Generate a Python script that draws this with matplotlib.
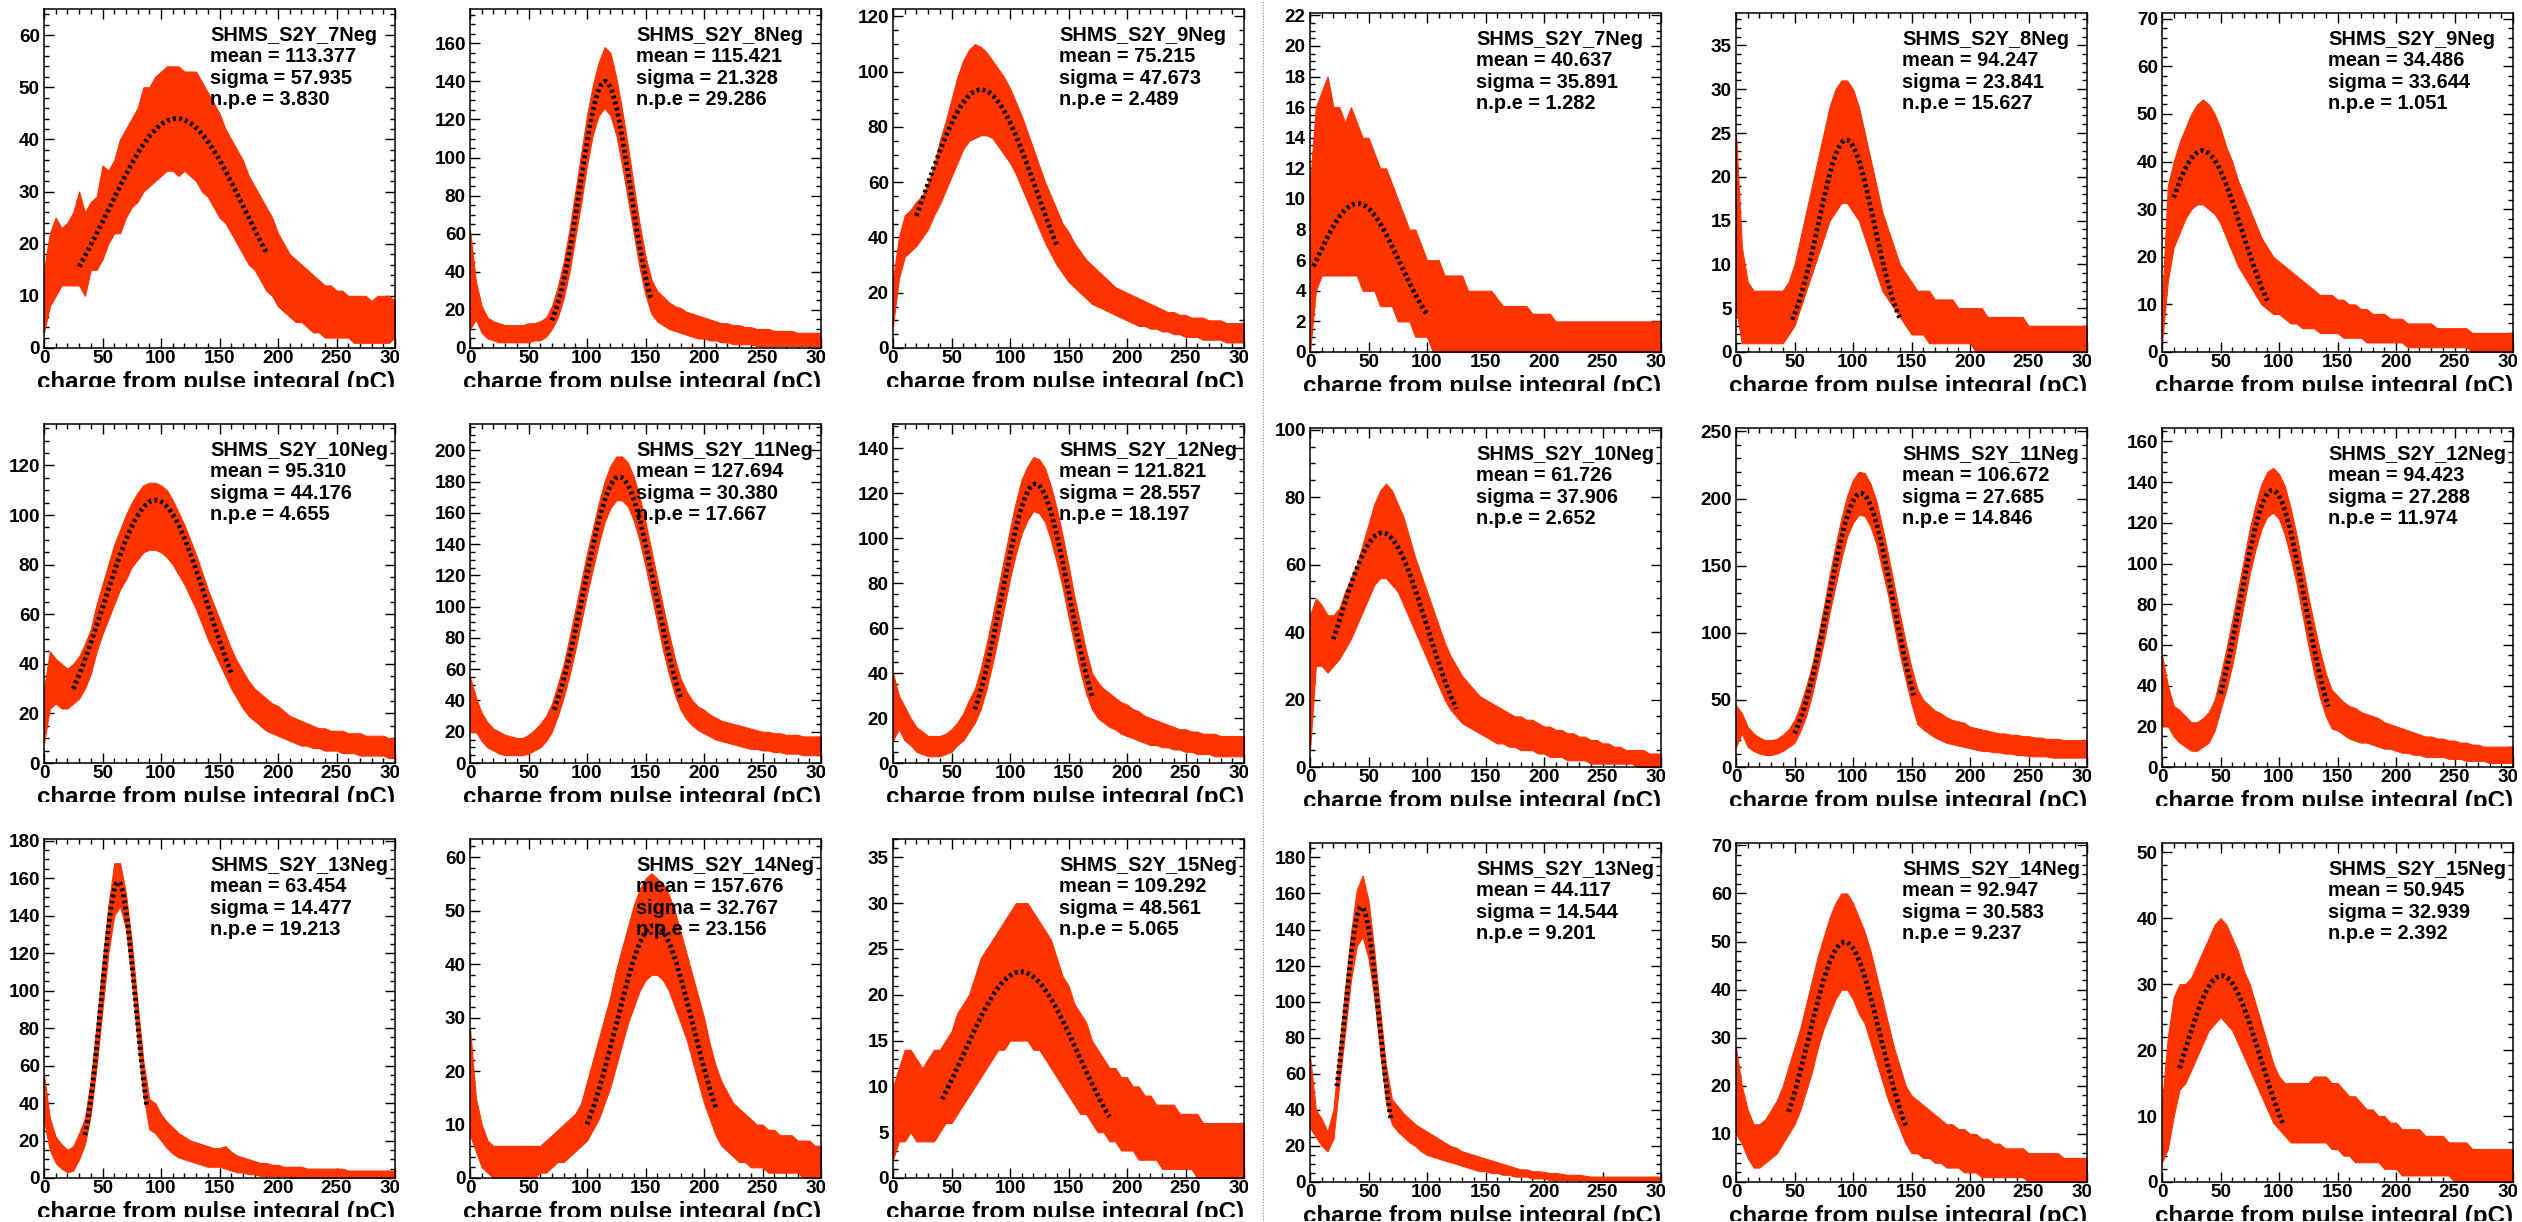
import numpy as np
import matplotlib
matplotlib.use("Agg")
import matplotlib.pyplot as plt
from matplotlib.ticker import MultipleLocator
from matplotlib.transforms import Bbox
from matplotlib.lines import Line2D

plt.rcParams['font.family'] = ['Liberation Sans', 'DejaVu Sans']
plt.rcParams['font.weight'] = 'bold'

W, H = 2522, 1222
RED = '#ff3300'

CHARGE = list(range(0, 301, 5))
CHANNELS = ['7Neg', '8Neg', '9Neg', '10Neg', '11Neg', '12Neg', '13Neg', '14Neg', '15Neg']

# left run
MEAN_A = [113.377, 115.421, 75.215, 95.310, 127.694, 121.821, 63.454, 157.676, 109.292]
SIGMA_A = [57.935, 21.328, 47.673, 44.176, 30.380, 28.557, 14.477, 32.767, 48.561]
NPE_A = [3.830, 29.286, 2.489, 4.655, 17.667, 18.197, 19.213, 23.156, 5.065]
FIT_AMP_A = [44, 140, 93.5, 106, 183, 124, 158, 47.3, 22.5]
FIT_FROM_A = [30, 70, 20, 25, 72, 70, 35, 100, 42]
FIT_TO_A = [190, 155, 140, 160, 180, 170, 88, 210, 185]
YMAX_A = [65, 178, 122.7, 136.7, 216.8, 150.7, 180.9, 63.4, 37]
YSTEP_A = [10, 20, 20, 20, 20, 20, 20, 10, 5]

# right run
MEAN_B = [40.637, 94.247, 34.486, 61.726, 106.672, 94.423, 44.117, 92.947, 50.945]
SIGMA_B = [35.891, 23.841, 33.644, 37.906, 27.685, 27.288, 14.544, 30.583, 32.939]
NPE_B = [1.282, 15.627, 1.051, 2.652, 14.846, 11.974, 9.201, 9.237, 2.392]
FIT_AMP_B = [9.7, 24.2, 42.3, 69.4, 204, 136, 152.5, 49.9, 31.3]
FIT_FROM_B = [3, 48, 10, 20, 50, 50, 23, 45, 15]
FIT_TO_B = [100, 140, 90, 125, 152, 142, 69, 145, 103]
YMAX_B = [22.15, 38.7, 71.2, 100.5, 252.6, 166.6, 188, 70.5, 51.4]
YSTEP_B = [2, 5, 10, 20, 50, 20, 20, 10, 10]

# histogram band (upper / lower edge of the noisy red trace)
A7_HI = [15, 22, 25, 23, 24, 26, 30, 26, 28, 29,
         35, 34, 36, 40, 42, 44, 46, 50, 50, 52,
         53, 54, 54, 54, 53, 53, 53, 51, 49, 47,
         45, 42, 40, 38, 36, 33, 31, 29, 27, 25,
         22, 20, 18, 17, 16, 15, 14, 13, 12, 12,
         11, 11, 10, 10, 10, 10, 9, 10, 10, 10, 9]
A7_LO = [3, 8, 10, 12, 12, 12, 12, 10, 15, 15,
         17, 20, 22, 22, 25, 27, 28, 30, 31, 32,
         33, 34, 34, 33, 34, 33, 32, 30, 29, 27,
         25, 24, 22, 20, 18, 16, 15, 13, 11, 10,
         8, 7, 6, 5, 5, 4, 3, 3, 2, 2,
         2, 2, 2, 1, 1, 1, 1, 1, 1, 1, 2]
A8_HI = [62, 35, 22, 16, 14, 13, 12, 12, 12, 12,
         13, 13, 14, 16, 22, 32, 45, 62, 82, 102,
         122, 138, 150, 158, 155, 142, 125, 106, 85, 65,
         48, 36, 30, 27, 24, 22, 21, 19, 18, 17,
         16, 15, 14, 13, 13, 12, 12, 11, 11, 10,
         10, 10, 9, 9, 9, 9, 8, 8, 8, 8, 8]
A8_LO = [10, 15, 8, 5, 4, 3, 3, 3, 3, 3,
         3, 4, 4, 6, 10, 16, 26, 40, 58, 76,
         96, 112, 122, 126, 122, 112, 96, 78, 60, 42,
         28, 18, 14, 12, 10, 9, 8, 7, 6, 5,
         5, 4, 4, 3, 3, 2, 2, 2, 2, 1,
         1, 1, 1, 1, 1, 1, 1, 1, 1, 1, 1]
A9_HI = [25, 40, 48, 50, 53, 55, 60, 66, 75, 82,
         90, 98, 104, 108, 110, 109, 107, 104, 101, 98,
         94, 89, 84, 78, 72, 66, 60, 55, 50, 45,
         42, 38, 35, 32, 30, 28, 26, 24, 22, 21,
         20, 19, 18, 17, 16, 15, 14, 13, 13, 12,
         12, 11, 11, 11, 10, 10, 10, 9, 9, 9, 9]
A9_LO = [8, 25, 33, 35, 37, 40, 43, 48, 52, 57,
         62, 67, 72, 75, 76, 77, 77, 76, 73, 70,
         67, 63, 58, 53, 48, 43, 38, 34, 30, 27,
         24, 22, 20, 18, 16, 15, 14, 13, 12, 11,
         10, 9, 8, 8, 7, 7, 6, 6, 5, 5,
         4, 4, 4, 3, 3, 3, 3, 2, 2, 2, 2]
A10_HI = [30, 45, 42, 40, 38, 40, 43, 48, 54, 64,
          72, 80, 88, 94, 100, 105, 109, 112, 113, 113,
          112, 110, 106, 101, 96, 90, 84, 77, 70, 64,
          58, 52, 46, 41, 37, 33, 30, 28, 26, 24,
          23, 21, 19, 18, 17, 16, 15, 14, 14, 13,
          13, 13, 12, 12, 12, 11, 11, 11, 11, 10, 10]
A10_LO = [8, 22, 24, 22, 22, 24, 26, 30, 36, 45,
          52, 58, 64, 70, 74, 79, 82, 85, 86, 86,
          85, 83, 80, 76, 72, 67, 62, 56, 50, 45,
          40, 35, 30, 26, 22, 19, 17, 15, 13, 12,
          11, 10, 9, 8, 7, 7, 6, 6, 5, 5,
          5, 4, 4, 4, 3, 3, 3, 3, 3, 2, 2]
A11_HI = [55, 42, 32, 26, 22, 20, 18, 17, 16, 16,
          18, 21, 25, 30, 38, 50, 63, 80, 98, 116,
          134, 150, 166, 180, 190, 196, 196, 192, 183, 170,
          154, 136, 118, 100, 83, 67, 54, 46, 40, 36,
          34, 31, 29, 27, 26, 25, 24, 23, 22, 21,
          20, 20, 19, 19, 18, 18, 18, 17, 17, 17, 17]
A11_LO = [20, 20, 14, 10, 8, 6, 5, 5, 5, 5,
          6, 8, 10, 14, 20, 30, 42, 56, 72, 90,
          108, 124, 140, 154, 163, 168, 168, 164, 155, 142,
          126, 108, 90, 72, 57, 44, 34, 28, 24, 21,
          19, 17, 15, 14, 13, 12, 11, 10, 9, 9,
          8, 8, 7, 7, 6, 6, 6, 5, 5, 5, 5]
A12_HI = [40, 30, 25, 20, 16, 14, 12, 12, 12, 13,
          15, 18, 22, 28, 33, 42, 53, 65, 78, 91,
          104, 116, 126, 132, 136, 135, 131, 123, 113, 101,
          88, 74, 62, 50, 40, 36, 33, 31, 29, 27,
          26, 24, 23, 21, 20, 19, 18, 17, 16, 15,
          15, 14, 14, 13, 13, 13, 12, 12, 12, 12, 12]
A12_LO = [10, 15, 10, 8, 5, 4, 3, 3, 3, 4,
          5, 8, 10, 14, 18, 24, 33, 44, 56, 69,
          82, 93, 102, 108, 112, 111, 107, 99, 89, 78,
          65, 53, 41, 31, 24, 20, 18, 16, 15, 13,
          12, 11, 10, 9, 8, 8, 7, 7, 6, 6,
          5, 5, 4, 4, 4, 3, 3, 3, 3, 3, 3]
A13_HI = [55, 32, 22, 18, 15, 17, 24, 32, 52, 82,
          115, 145, 168, 168, 152, 126, 93, 62, 42, 40,
          34, 30, 27, 24, 22, 20, 19, 18, 17, 16,
          16, 17, 14, 12, 11, 10, 9, 8, 8, 7,
          7, 6, 6, 6, 6, 5, 5, 5, 5, 5,
          5, 5, 4, 4, 4, 4, 4, 4, 4, 4, 4]
A13_LO = [30, 15, 8, 5, 3, 4, 10, 18, 34, 60,
          90, 120, 140, 145, 133, 106, 73, 44, 26, 24,
          20, 16, 13, 11, 10, 9, 8, 7, 6, 6,
          6, 5, 4, 3, 3, 2, 2, 1, 1, 1,
          1, 1, 0, 0, 0, 0, 0, 0, 0, 0,
          0, 0, 0, 0, 0, 0, 0, 0, 0, 0, 0]
A14_HI = [28, 15, 10, 7, 6, 6, 6, 6, 6, 6,
          6, 6, 6, 7, 8, 9, 10, 11, 12, 14,
          18, 22, 26, 30, 34, 39, 43, 47, 51, 54,
          56, 57, 56, 55, 53, 50, 46, 42, 38, 34,
          30, 25, 21, 18, 16, 14, 13, 12, 11, 10,
          10, 9, 9, 8, 8, 8, 7, 7, 7, 6, 6]
A14_LO = [8, 5, 2, 1, 0, 0, 0, 0, 0, 0,
          0, 0, 1, 1, 2, 3, 3, 4, 5, 6,
          7, 9, 11, 14, 17, 21, 25, 29, 32, 35,
          37, 38, 38, 37, 35, 32, 29, 26, 22, 18,
          14, 11, 8, 6, 5, 4, 3, 3, 2, 2,
          2, 1, 1, 1, 1, 1, 1, 0, 0, 0, 0]
A15_HI = [10, 12, 14, 14, 13, 12, 13, 14, 14, 15,
          16, 18, 19, 20, 22, 24, 25, 26, 27, 28,
          29, 30, 30, 30, 29, 28, 27, 26, 24, 22,
          21, 19, 18, 17, 15, 14, 13, 12, 12, 11,
          11, 10, 10, 9, 9, 8, 8, 8, 8, 7,
          7, 7, 7, 6, 6, 6, 6, 6, 6, 6, 6]
A15_LO = [2, 4, 4, 5, 4, 4, 4, 4, 5, 6,
          6, 7, 8, 9, 10, 11, 12, 13, 14, 14,
          15, 15, 15, 15, 14, 14, 13, 12, 11, 10,
          9, 8, 7, 7, 6, 5, 5, 4, 4, 3,
          3, 3, 2, 2, 2, 2, 1, 1, 1, 1,
          1, 1, 0, 0, 0, 0, 0, 0, 0, 0, 0]

B7_HI = [11, 16, 17, 18, 16, 16, 15, 16, 15, 14,
         14, 13, 12, 12, 11, 10, 9, 8, 8, 7,
         6, 6, 6, 5, 5, 5, 5, 4, 4, 4,
         4, 4, 3.5, 3, 3, 3, 3, 3, 2.5, 2.5,
         2.5, 2.5, 2, 2, 2, 2, 2, 2, 2, 2,
         2, 2, 2, 2, 2, 2, 2, 2, 2, 2, 2]
B7_LO = [0, 4, 5, 5, 5, 5, 5, 5, 5, 4,
         4, 4, 3, 3, 3, 2, 2, 2, 1, 1,
         1, 0, 0, 0, 0, 0, 0, 0, 0, 0,
         0, 0, 0, 0, 0, 0, 0, 0, 0, 0,
         0, 0, 0, 0, 0, 0, 0, 0, 0, 0,
         0, 0, 0, 0, 0, 0, 0, 0, 0, 0, 0]
B8_HI = [25, 12, 8, 7, 7, 7, 7, 7, 7, 8,
         10, 13, 16, 19, 22, 25, 28, 30, 31, 31,
         30, 28, 25, 22, 19, 16, 14, 12, 10, 9,
         8, 7, 7, 7, 6, 6, 6, 6, 5, 5,
         5, 5, 5, 4, 4, 4, 4, 4, 4, 4,
         3, 3, 3, 3, 3, 3, 3, 3, 3, 3, 3]
B8_LO = [5, 1, 1, 1, 1, 1, 1, 1, 1, 2,
         3, 5, 7, 9, 11, 13, 15, 16, 17, 17,
         16, 15, 13, 11, 9, 7, 6, 5, 4, 3,
         2, 2, 2, 1, 1, 1, 1, 1, 1, 1,
         1, 0, 0, 0, 0, 0, 0, 0, 0, 0,
         0, 0, 0, 0, 0, 0, 0, 0, 0, 0, 0]
B9_HI = [10, 35, 40, 44, 47, 50, 52, 53, 52, 50,
         47, 43, 40, 36, 33, 30, 27, 24, 22, 20,
         19, 18, 17, 16, 15, 14, 13, 12, 12, 12,
         11, 11, 10, 10, 9, 9, 8, 8, 8, 7,
         7, 7, 6, 6, 6, 6, 6, 5, 5, 5,
         5, 5, 5, 4, 4, 4, 4, 4, 4, 4, 4]
B9_LO = [2, 15, 22, 25, 28, 30, 31, 31, 30, 29,
         27, 24, 21, 18, 16, 14, 12, 10, 9, 8,
         8, 7, 6, 6, 5, 5, 5, 4, 4, 4,
         4, 3, 3, 3, 3, 2, 2, 2, 2, 2,
         2, 2, 1, 1, 1, 1, 1, 1, 1, 1,
         1, 1, 1, 0, 0, 0, 0, 0, 0, 0, 0]
B10_HI = [45, 50, 48, 45, 45, 47, 52, 56, 60, 66,
          72, 78, 82, 84, 82, 78, 74, 68, 62, 57,
          52, 47, 42, 37, 33, 30, 27, 25, 23, 21,
          20, 19, 18, 17, 16, 15, 15, 14, 14, 13,
          12, 12, 11, 11, 10, 10, 9, 9, 8, 8,
          7, 7, 6, 6, 5, 5, 5, 5, 4, 4, 4]
B10_LO = [5, 30, 30, 28, 30, 32, 35, 38, 42, 46,
          50, 54, 56, 56, 54, 52, 48, 44, 40, 36,
          32, 28, 24, 20, 17, 15, 13, 12, 11, 10,
          9, 8, 7, 7, 6, 6, 5, 5, 5, 4,
          4, 3, 3, 3, 2, 2, 2, 2, 1, 1,
          1, 1, 1, 1, 1, 1, 0, 0, 0, 0, 0]
B11_HI = [46, 40, 30, 25, 22, 20, 20, 21, 24, 28,
          35, 46, 60, 76, 97, 119, 143, 165, 185, 202,
          214, 220, 219, 211, 198, 179, 158, 136, 114, 93,
          74, 58, 50, 46, 42, 40, 37, 35, 34, 33,
          30, 29, 28, 27, 26, 25, 25, 24, 24, 23,
          23, 22, 22, 21, 21, 21, 20, 20, 20, 20, 20]
B11_LO = [15, 25, 15, 12, 10, 9, 9, 10, 12, 15,
          18, 27, 38, 54, 73, 93, 115, 135, 155, 172,
          182, 188, 187, 179, 166, 147, 128, 106, 84, 65,
          47, 32, 28, 25, 22, 20, 18, 17, 16, 15,
          14, 13, 12, 12, 11, 11, 10, 10, 9, 9,
          8, 8, 8, 8, 7, 7, 7, 7, 7, 7, 7]
B12_HI = [55, 40, 30, 28, 25, 22, 22, 24, 27, 33,
          45, 58, 72, 87, 102, 117, 129, 139, 145, 147,
          144, 138, 127, 114, 99, 84, 70, 57, 46, 38,
          35, 32, 30, 29, 27, 26, 25, 24, 22, 21,
          20, 19, 18, 17, 16, 15, 15, 14, 14, 13,
          13, 12, 12, 11, 11, 10, 10, 10, 10, 10, 10]
B12_LO = [20, 20, 15, 12, 10, 8, 8, 10, 12, 18,
          28, 38, 50, 65, 80, 95, 107, 117, 123, 125,
          122, 114, 103, 90, 75, 60, 46, 34, 25, 19,
          18, 16, 14, 13, 12, 12, 11, 10, 9, 9,
          8, 7, 7, 6, 6, 5, 5, 5, 5, 4,
          4, 4, 3, 3, 3, 3, 2, 2, 2, 2, 2]
B13_HI = [70, 40, 35, 28, 40, 74, 107, 138, 162, 170,
          156, 128, 95, 64, 46, 42, 38, 35, 32, 30,
          28, 26, 24, 22, 20, 19, 17, 16, 15, 14,
          13, 12, 11, 10, 9, 8, 7, 7, 6, 6,
          5.5, 5, 5, 4.5, 4, 4, 4, 3.5, 3, 3,
          3, 3, 3, 3, 3, 3, 3, 3, 3, 3, 3]
B13_LO = [30, 25, 20, 17, 24, 54, 83, 112, 131, 136,
          124, 102, 72, 44, 32, 28, 25, 22, 20, 17,
          15, 14, 13, 12, 11, 10, 9, 8, 7, 6,
          6, 5, 5, 4, 4, 3, 3, 3, 2, 2,
          2, 1, 1, 1, 1, 1, 1, 1, 0, 0,
          0, 0, 0, 0, 0, 0, 0, 0, 0, 0, 0]
B14_HI = [28, 20, 15, 12, 12, 13, 15, 17, 20, 24,
          28, 32, 37, 42, 47, 51, 55, 58, 60, 60,
          58, 55, 52, 48, 43, 38, 33, 28, 24, 20,
          18, 17, 16, 15, 14, 13, 12, 12, 11, 11,
          10, 10, 9, 9, 8, 8, 7, 7, 7, 7,
          6, 6, 6, 6, 6, 6, 5, 5, 5, 5, 5]
B14_LO = [10, 8, 5, 3, 3, 4, 5, 6, 8, 10,
          12, 15, 19, 23, 28, 32, 35, 38, 40, 40,
          38, 35, 33, 29, 25, 21, 17, 14, 11, 8,
          6, 6, 5, 5, 4, 4, 3, 3, 3, 2,
          2, 2, 1, 1, 1, 1, 1, 1, 1, 1,
          0, 0, 0, 0, 0, 0, 0, 0, 0, 0, 0]
B15_HI = [12, 22, 28, 30, 30, 31, 33, 35, 37, 39,
          40, 39, 37, 35, 32, 30, 27, 24, 21, 18,
          16, 15, 15, 15, 15, 15, 16, 16, 16, 15,
          15, 14, 13, 13, 12, 11, 11, 10, 10, 9,
          9, 8, 8, 8, 8, 7, 7, 7, 7, 6,
          6, 6, 6, 5, 5, 5, 5, 5, 5, 5, 5]
B15_LO = [3, 5, 10, 14, 15, 17, 19, 21, 23, 24,
          25, 24, 23, 21, 19, 17, 15, 13, 11, 9,
          8, 7, 6, 6, 6, 6, 6, 6, 6, 5,
          5, 4, 4, 3, 3, 3, 3, 3, 2, 2,
          2, 1, 1, 1, 1, 1, 1, 1, 1, 1,
          0, 0, 0, 0, 0, 0, 0, 0, 0, 0, 0]

HI_A = [A7_HI, A8_HI, A9_HI, A10_HI, A11_HI, A12_HI, A13_HI, A14_HI, A15_HI]
LO_A = [A7_LO, A8_LO, A9_LO, A10_LO, A11_LO, A12_LO, A13_LO, A14_LO, A15_LO]
HI_B = [B7_HI, B8_HI, B9_HI, B10_HI, B11_HI, B12_HI, B13_HI, B14_HI, B15_HI]
LO_B = [B7_LO, B8_LO, B9_LO, B10_LO, B11_LO, B12_LO, B13_LO, B14_LO, B15_LO]

# frame layout in pixels (left edge / top edge of every plot frame)
FRAME_W, FRAME_H = 351, 339
COLS_A, ROWS_A = [44, 470, 893], [9, 424, 839]
COLS_B, ROWS_B = [1310, 1736, 2162], [13, 428, 843]
MINOR_OF = {2: 0.5, 5: 1, 10: 2, 20: 5, 50: 10}

fig = plt.figure(figsize=(W / 100, H / 100), dpi=100)


def draw_panel(fx, fy, k, hi, lo, mean, sigma, npe, amp, f0, f1, ymax, ystep):
    ax = fig.add_axes([fx / W, 1 - (fy + FRAME_H) / H, FRAME_W / W, FRAME_H / H])
    ax.fill_between(CHARGE, lo, hi, color=RED, edgecolor=RED, lw=0.8, zorder=2)

    xs = np.linspace(f0, f1, 300)
    ax.plot(xs, amp * np.exp(-0.5 * ((xs - mean) / sigma) ** 2), color='black',
            lw=3.4, ls=(0, (0.6, 0.7)), dash_capstyle='butt', zorder=3)

    ax.set_xlim(0, 300)
    ax.set_ylim(0, ymax)
    ax.xaxis.set_major_locator(MultipleLocator(50))
    ax.xaxis.set_minor_locator(MultipleLocator(10))
    ax.yaxis.set_major_locator(MultipleLocator(ystep))
    ax.yaxis.set_minor_locator(MultipleLocator(MINOR_OF[ystep]))
    ax.tick_params(which='both', direction='in', top=True, right=True, width=1.0,
                   labelsize=13.6)
    ax.tick_params(which='major', length=7)
    ax.tick_params(which='minor', length=3.5)
    ax.tick_params(axis='x', pad=1.5)
    ax.tick_params(axis='y', pad=3)
    for sp in ax.spines.values():
        sp.set_linewidth(1.1)

    # the ROOT pad cuts off the last x label and the x title
    pad = Bbox.from_extents(fx - 80, H - (fy + FRAME_H + 39), fx + FRAME_W + 4, H - fy + 30)
    for t in ax.xaxis.get_major_ticks():
        t.label1.set_clip_box(pad)
        t.label1.set_clip_on(True)
    fig.text((fx + FRAME_W) / W, (H - (fy + FRAME_H + 41)) / H,
             'charge from pulse integral (pC)', ha='right', va='baseline',
             fontsize=17.4, fontweight='bold', clip_box=pad, clip_on=True)

    lines = ['SHMS_S2Y_' + CHANNELS[k], 'mean = %.3f' % mean,
             'sigma = %.3f' % sigma, 'n.p.e = %.3f' % npe]
    for i, s in enumerate(lines):
        ax.text(0.473, 1 - (32 + 21.3 * i) / FRAME_H, s, transform=ax.transAxes,
                fontsize=14.4, fontweight='bold', ha='left', va='baseline', zorder=5)


for k in range(9):
    r, c = divmod(k, 3)
    draw_panel(COLS_A[c], ROWS_A[r], k, HI_A[k], LO_A[k], MEAN_A[k], SIGMA_A[k], NPE_A[k],
               FIT_AMP_A[k], FIT_FROM_A[k], FIT_TO_A[k], YMAX_A[k], YSTEP_A[k])
    draw_panel(COLS_B[c], ROWS_B[r], k, HI_B[k], LO_B[k], MEAN_B[k], SIGMA_B[k], NPE_B[k],
               FIT_AMP_B[k], FIT_FROM_B[k], FIT_TO_B[k], YMAX_B[k], YSTEP_B[k])

# dotted divider between the two runs
fig.add_artist(Line2D([1262.5 / W] * 2, [0, 1], transform=fig.transFigure,
                      color='#8c8c8c', lw=0.8, ls=(0, (1, 1.5))))

fig.savefig('out.png', dpi=100)
